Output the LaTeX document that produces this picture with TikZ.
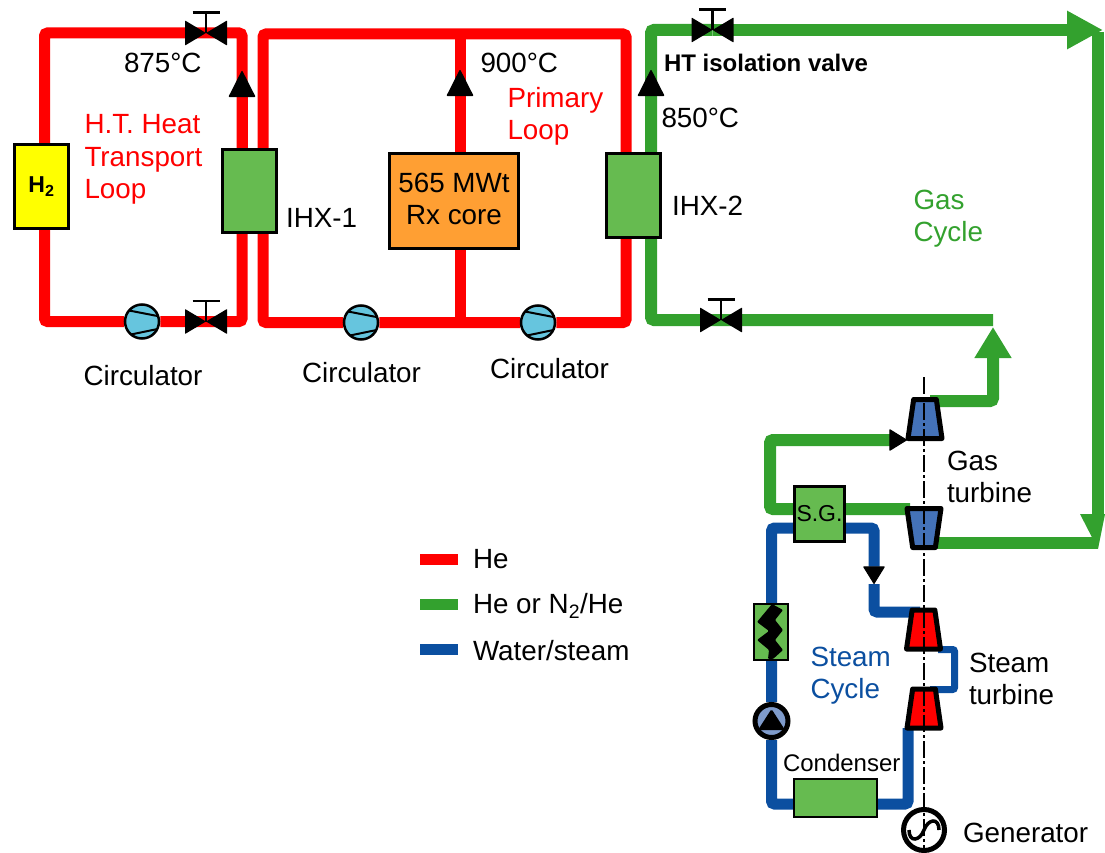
\documentclass[tikz,border=0pt]{standalone}
\usepackage{fontspec}
\setmainfont{Liberation Sans}
\usetikzlibrary{positioning,arrows.meta,shapes.geometric,backgrounds}
\definecolor{hered}{HTML}{FF0000}
\definecolor{gasgreen}{HTML}{33A12E}
\definecolor{steamblue}{HTML}{0B4FA0}
\definecolor{hxgreen}{HTML}{66BB50}
\definecolor{coreorange}{HTML}{FF9F33}
\definecolor{circblue}{HTML}{66C5DE}
\definecolor{turbblue}{HTML}{4472B8}
\definecolor{pumpblue}{HTML}{7F9BCB}
\definecolor{htyellow}{HTML}{FFFF00}
\newcommand{\valve}[2]{%
  \node[inner sep=0pt, outer sep=0pt, minimum size=0pt] (#1) at (#2) {};
  \fill[black, rounded corners=0.5pt] (#1.center) -- +(-21,-12.5) -- +(-21,12.5) -- cycle
    (#1.center) -- +(21,-12.5) -- +(21,12.5) -- cycle;
  \draw[line width=2.5pt] (#1.center) -- +(0,-20.5) +(-13.5,-20.5) -- +(13.5,-20.5);
}
\begin{document}
\begin{tikzpicture}[
  x=1pt, y=-1pt,
  lbl/.style={font=\fontsize{27.8}{32}\selectfont, inner sep=0pt, outer sep=0pt, align=left},
  unit/.style={draw=black, line width=2.7pt, inner sep=0pt},
  hxbox/.style={unit, fill=hxgreen},
  circulator/.style={circle, draw=black, line width=2.5pt, fill=circblue, inner sep=0pt, minimum size=34pt,
    path picture={\draw[line width=2pt] (path picture bounding box.center) +(-13,-11) -- +(18,-5) +(-11,13) -- +(18,7);}},
  turbine/.style={trapezium, draw=black, line width=5pt, line join=round, inner sep=0pt, outer sep=0pt,
    trapezium left angle=76, trapezium right angle=76, trapezium stretches=true,
    text width=1pt, text height=1pt, text depth=0pt, minimum width=34pt, minimum height=39pt},
  hepipe/.style={hered, line width=11pt, rounded corners=3pt},
  gaspipe/.style={gasgreen, line width=12pt, rounded corners=3pt},
  steampipe/.style={steamblue, line width=11pt, rounded corners=3pt},
  flowtip/.tip={Triangle[length=27pt, width=27pt, line width=1.5pt, round, color=black]},
  smalltip/.tip={Triangle[length=18pt, width=22pt, line width=1pt, round, color=black]},
  gastip/.tip={Triangle[length=36pt, width=36pt, color=gasgreen]},
  gasuptip/.tip={Triangle[length=31pt, width=35pt, color=gasgreen]}
]
\useasboundingbox (0,0) rectangle (1105,853);

% plant units
\node[hxbox, fill=htyellow, minimum width=54.5pt, minimum height=84.5pt, font=\fontsize{23}{26}\selectfont\bfseries] (h2) at (41.5,186.5) {H\textsubscript{2}};
\node[hxbox, minimum width=54.5pt, minimum height=83.5pt] (hx1) at (249.5,191) {};
\node[unit, fill=coreorange, minimum width=129.5pt, minimum height=95.5pt, align=center, text depth=4pt, font=\fontsize{27.8}{32}\selectfont] (core) at (454,201) {565 MWt\\Rx core};
\node[hxbox, minimum width=54.5pt, minimum height=84.5pt] (hx2) at (633.5,195.5) {};
\node[hxbox, minimum width=50.5pt, minimum height=55.5pt, font=\fontsize{23}{26}\selectfont] (sg) at (819.5,514) {S.G.};
\node[hxbox, minimum width=83pt, minimum height=38pt] (cond) at (835.5,798) {};
\node[hxbox, minimum width=34pt, minimum height=56pt] (fwh) at (771,632) {};
\fill[black, rounded corners=1pt] (772,604) -- (783,610) -- (775,620) -- (783,630) -- (775,640) -- (783,650) -- (773,659)
  -- (768,659) -- (769,650) -- (757,640) -- (769,631) -- (757,622) -- cycle;

\node[circulator] (cHT) at (142,321.5) {};
\node[circulator] (cP1) at (361,322.5) {};
\node[circulator] (cP2) at (538,322.5) {};
\valve{vHTtop}{206,33}
\valve{vHTlow}{206,321.5}
\valve{vGtop}{712.5,30}
\valve{vGlow}{721,320}

\node[turbine, fill=turbblue] (gc) at (925,419) {};
\node[turbine, fill=turbblue, shape border rotate=180] (gt) at (924,528) {};
\node[turbine, fill=hered] (st1) at (923.5,629.5) {};
\node[turbine, fill=hered] (st2) at (924,708.5) {};

\node[circle, draw=black, line width=5pt, fill=pumpblue, inner sep=0pt, minimum size=33pt] (pump) at (771.5,721) {};
\fill[black, rounded corners=1.5pt] (771.5,709) -- (785,730) -- (758,730) -- cycle;
\node[circle, draw=black, line width=5pt, inner sep=0pt, minimum size=41pt] (gen) at (924,830) {};
\draw[line width=3.5pt] (909,830) .. controls (909,843) and (920,841) .. (924,830) .. controls (928,819) and (939,817) .. (939,830);
\coordinate (axisTop) at (924,377);
\coordinate (axisEnd) at (924,853);
\draw[line width=1.7pt, dash pattern=on 17pt off 3pt on 3pt off 3pt] (axisTop) -- (axisEnd);

% free ends of the pipes
\coordinate (h2In) at (44.5,143);
\coordinate (h2Out) at (44.5,230);
\coordinate (hx1A) at (242,148);
\coordinate (hx1B) at (242,234);
\coordinate (hx1C) at (263,148);
\coordinate (hx1D) at (263,234);
\coordinate (coreTop) at (460,34);
\coordinate (coreUp) at (460,152);
\coordinate (coreDown) at (460,250);
\coordinate (coreFoot) at (460,322.5);
\coordinate (hx2A) at (626,152);
\coordinate (hx2B) at (626,239);
\coordinate (hx2C) at (651,152);
\coordinate (hx2D) at (651,239);
\coordinate (gasEast) at (1103,30);
\coordinate (gasEastTop) at (1098,32);
\coordinate (gasEastDown) at (1098,516);
\coordinate (gasBack) at (993,320);
\coordinate (gasUp) at (993,327);
\coordinate (gcOut) at (930,401);
\coordinate (gcBase) at (892,440);
\coordinate (gcIn) at (907,440);
\coordinate (gtIn) at (910,509);
\coordinate (gtOut) at (930,543);
\coordinate (gtEnd) at (1098,543);
\coordinate (sgWest) at (770,509);
\coordinate (sgA) at (800,528);
\coordinate (sgB) at (840,528);
\coordinate (steamTip) at (874,584);
\coordinate (st1In) at (920,612);
\coordinate (st1Out) at (938,649.5);
\coordinate (st2In) at (930,689.5);
\coordinate (stLink) at (954.5,649.5);
\coordinate (stLinkB) at (954.5,689.5);
\coordinate (st2Out) at (908,728);
\coordinate (condA) at (800,804);
\coordinate (condB) at (870,804);

\begin{scope}[on background layer]
\draw[hepipe] (h2In) |- (vHTtop) -| (hx1A);
\draw[hepipe] (h2Out) |- (cHT) -- (vHTlow) -| (hx1B);
\draw[hepipe, -{flowtip}] (hx1A) -- +(0,-77);
\draw[hepipe] (hx1C) |- (coreTop) -| (hx2A);
\draw[hepipe] (hx1D) |- (cP1) -- (coreFoot) -- (cP2) -| (hx2B);
\draw[hepipe] (coreUp) -- (coreTop);
\draw[hepipe] (coreDown) -- (coreFoot);
\draw[hepipe, -{flowtip}] (coreUp) -- +(0,-82);
\draw[gaspipe] (hx2C) |- (vGtop);
\draw[gaspipe, -{gastip}] (vGtop) -- (gasEast);
\draw[gaspipe, -{flowtip}] (hx2C) -- +(0,-82);
\draw[gaspipe] (hx2D) |- (vGlow) -- (gasBack);
\draw[gaspipe, -{gasuptip}] (gcOut) -| (gasUp);
\draw[gaspipe] (gasEastTop) -- (gasEastDown);
\draw[gaspipe] (gtOut) -- (gtEnd);
\fill[gasgreen] (1080,514) -- (1105,514) -- (1098,549) -- cycle;
\draw[gaspipe] (gtIn) -- (sgWest) |- (gcBase);
\draw[gasgreen, line width=12pt, -{smalltip}] (gcBase) -- (gcIn);
\draw[steampipe] (sgA) -| (pump) |- (condA);
\draw[steampipe] (condB) -| (st2Out);
\draw[steampipe, -{smalltip}] (sgB) -| (steamTip);
\draw[steampipe] (steamTip) |- (st1In);
\draw[steamblue, line width=7pt, rounded corners=2pt] (st1Out) -- (stLink) -- (stLinkB) -- (st2In);
\end{scope}

% texts
\node[lbl, below=26pt of cHT, xshift=1pt] (lblcHT) {Circulator};
\node[lbl, below=21.5pt of cP1, xshift=0.5pt] (lblcP1) {Circulator};
\node[lbl, below=18pt of cP2, xshift=11.5pt] (lblcP2) {Circulator};
\node[lbl, right=8pt of hx1, yshift=-27pt] (lblhx1) {IHX-1};
\node[lbl, right=10pt of hx2, yshift=-10.5pt] (lblhx2) {IHX-2};
\node[lbl, right=16pt of gen, yshift=-3pt] (lblgen) {Generator};
\node[lbl, anchor=base west] (t875) at (124,73) {875°C};
\node[lbl, anchor=base west] (t900) at (480.5,73) {900°C};
\node[lbl, anchor=base west] (t850) at (661.5,128) {850°C};
\node[lbl, anchor=base west, text=hered] (lblht) at (84.5,198) {H.T. Heat\\Transport\\Loop};
\node[lbl, anchor=base west, text=hered] (lblpri) at (507.5,140) {Primary\\Loop};
\node[lbl, anchor=base west, font=\fontsize{24}{28}\selectfont\bfseries] (lbliso) at (664,72) {HT isolation valve};
\node[lbl, anchor=base west, text=gasgreen] (lblgas) at (913.5,241) {Gas\\Cycle};
\node[lbl, anchor=base west] (lblgt) at (947,502) {Gas\\turbine};
\node[lbl, anchor=base west] (lblst) at (969,704) {Steam\\turbine};
\node[lbl, anchor=base west, text=steamblue] (lblsc) at (810.5,698) {Steam\\Cycle};
\node[lbl, anchor=base west, font=\fontsize{24}{28}\selectfont] (lblcond) at (783,771) {Condenser};

% legend
\coordinate (keyA) at (420,559);
\coordinate (keyB) at (458,559);
\coordinate (keyC) at (420,604);
\coordinate (keyD) at (458,604);
\coordinate (keyE) at (420,649);
\coordinate (keyF) at (458,649);
\draw[hered, line width=11pt] (keyA) -- (keyB);
\draw[gasgreen, line width=11pt] (keyC) -- (keyD);
\draw[steamblue, line width=11pt] (keyE) -- (keyF);
\node[lbl, anchor=base west] (lblhe) at (473,568) {He};
\node[lbl, anchor=base west] (lblmix) at (473,613) {He or N\textsubscript{2}/He};
\node[lbl, anchor=base west] (lblwat) at (473,660) {Water/steam};
\end{tikzpicture}
\end{document}
